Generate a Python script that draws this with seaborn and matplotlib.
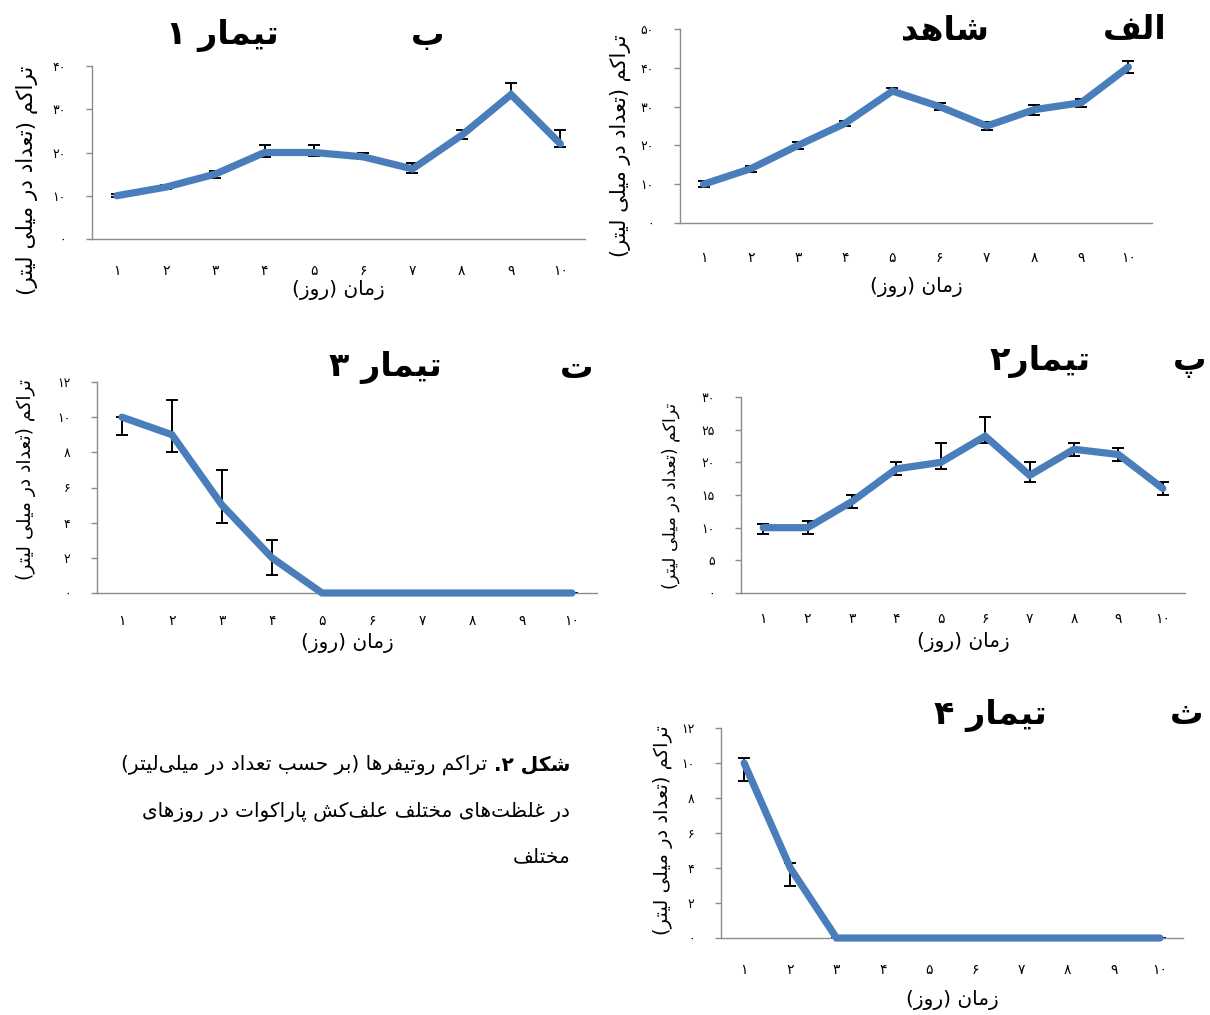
import matplotlib
matplotlib.use("Agg")
import matplotlib.pyplot as plt
import pandas as pd
import seaborn as sns

# ---------------- data ----------------
days = [1, 2, 3, 4, 5, 6, 7, 8, 9, 10]

control_mean = [10, 14, 20, 25.7, 34, 30, 25, 29.2, 31, 40.2]
control_lo = [0.8, 0.8, 0.8, 0.7, 0.8, 1.0, 1.0, 1.3, 1.0, 1.5]
control_hi = [0.8, 0.8, 0.8, 0.7, 0.8, 1.0, 1.0, 1.3, 1.0, 1.5]
control_yticks = [0, 10, 20, 30, 40, 50]

t1_mean = [10, 12, 15, 20, 20, 19, 16.2, 24, 33.4, 22]
t1_lo = [0.4, 0.5, 0.8, 1.0, 0.8, 0.5, 0.9, 0.9, 0.5, 0.8]
t1_hi = [0.4, 0.5, 0.8, 1.8, 1.8, 1.0, 1.4, 1.2, 2.7, 3.3]
t1_yticks = [0, 10, 20, 30, 40]

t2_mean = [10, 10, 14, 19, 20, 24, 18, 22, 21.2, 16]
t2_lo = [1, 1, 1, 1, 1, 1, 1, 1, 1, 1]
t2_hi = [0.5, 1, 1, 1, 3, 3, 2, 1, 1, 1]
t2_yticks = [0, 5, 10, 15, 20, 25, 30]

t3_mean = [10, 9, 5, 2, 0, 0, 0, 0, 0, 0]
t3_lo = [1, 1, 1, 1, 0, 0, 0, 0, 0, 0]
t3_hi = [0, 2, 2, 1, 0, 0, 0, 0, 0, 0]
t3_yticks = [0, 2, 4, 6, 8, 10, 12]

t4_mean = [10, 4, 0, 0, 0, 0, 0, 0, 0, 0]
t4_lo = [1, 1, 0, 0, 0, 0, 0, 0, 0, 0]
t4_hi = [0.3, 0.3, 0, 0, 0, 0, 0, 0, 0, 0]
t4_yticks = [0, 2, 4, 6, 8, 10, 12]

panel_letters = ["الف", "ب", "پ", "ت", "ث"]
panel_names = ["شاهد", "تیمار ۱", "تیمار۲", "تیمار ۳", "تیمار ۴"]
ylabel_text = "تراکم (تعداد در میلی لیتر)"
xlabel_text = "زمان (روز)"
caption_bold = "شکل ۲."
caption_line1 = "تراکم روتیفرها (بر حسب تعداد در میلی\u200cلیتر)"
caption_line2 = "در غلظت\u200cهای مختلف علف\u200cکش پاراکوات در روزهای"
caption_line3 = "مختلف"

# ---------------- Persian shaping helpers ----------------
FORMS = {
    "ا": ("\uFE8D", "\uFE8E", None, None),
    "ب": ("\uFE8F", "\uFE90", "\uFE91", "\uFE92"),
    "پ": ("\uFB56", "\uFB57", "\uFB58", "\uFB59"),
    "ت": ("\uFE95", "\uFE96", "\uFE97", "\uFE98"),
    "ث": ("\uFE99", "\uFE9A", "\uFE9B", "\uFE9C"),
    "ح": ("\uFEA1", "\uFEA2", "\uFEA3", "\uFEA4"),
    "خ": ("\uFEA5", "\uFEA6", "\uFEA7", "\uFEA8"),
    "د": ("\uFEA9", "\uFEAA", None, None),
    "ر": ("\uFEAD", "\uFEAE", None, None),
    "ز": ("\uFEAF", "\uFEB0", None, None),
    "س": ("\uFEB1", "\uFEB2", "\uFEB3", "\uFEB4"),
    "ش": ("\uFEB5", "\uFEB6", "\uFEB7", "\uFEB8"),
    "ط": ("\uFEC1", "\uFEC2", "\uFEC3", "\uFEC4"),
    "ظ": ("\uFEC5", "\uFEC6", "\uFEC7", "\uFEC8"),
    "ع": ("\uFEC9", "\uFECA", "\uFECB", "\uFECC"),
    "غ": ("\uFECD", "\uFECE", "\uFECF", "\uFED0"),
    "ف": ("\uFED1", "\uFED2", "\uFED3", "\uFED4"),
    "ک": ("\uFB8E", "\uFB8F", "\uFB90", "\uFB91"),
    "ل": ("\uFEDD", "\uFEDE", "\uFEDF", "\uFEE0"),
    "م": ("\uFEE1", "\uFEE2", "\uFEE3", "\uFEE4"),
    "ن": ("\uFEE5", "\uFEE6", "\uFEE7", "\uFEE8"),
    "ه": ("\uFEE9", "\uFEEA", "\uFEEB", "\uFEEC"),
    "و": ("\uFEED", "\uFEEE", None, None),
    "ی": ("\uFBFC", "\uFBFD", "\uFBFE", "\uFBFF"),
}
FA_DIGITS = "۰۱۲۳۴۵۶۷۸۹"
MIRROR = {"(": ")", ")": "("}


def _dual(c):
    return c in FORMS and FORMS[c][2] is not None


def rtl(text):
    ch = list(text)
    n = len(ch)
    glyphs = []
    i = 0
    while i < n:
        c = ch[i]
        if c not in FORMS:
            glyphs.append(c)
            i += 1
            continue
        prev = ch[i - 1] if i > 0 else None
        conn_prev = prev is not None and _dual(prev)
        if c == "ل" and i + 1 < n and ch[i + 1] == "ا":
            glyphs.append("\uFEFC" if conn_prev else "\uFEFB")
            i += 2
            continue
        nxt = ch[i + 1] if i + 1 < n else None
        conn_next = _dual(c) and nxt is not None and nxt in FORMS
        iso, fin, ini, med = FORMS[c]
        if conn_prev and conn_next:
            g = med
        elif conn_prev:
            g = fin
        elif conn_next:
            g = ini
        else:
            g = iso
        glyphs.append(g)
        i += 1
    vis = glyphs[::-1]
    out = []
    i = 0
    while i < len(vis):
        if vis[i] in FA_DIGITS:
            j = i
            while j < len(vis) and vis[j] in FA_DIGITS:
                j += 1
            out.extend(vis[i:j][::-1])
            i = j
        else:
            out.append(MIRROR.get(vis[i], vis[i]))
            i += 1
    return "".join(c for c in out if c != "\u200c")


def fa_num(v):
    return str(v).translate(str.maketrans("0123456789", FA_DIGITS))


# ---------------- figure ----------------
sns.set_theme(style="white")
plt.rcParams["font.family"] = ["DejaVu Sans"]
plt.rcParams["text.color"] = "black"
plt.rcParams["axes.labelcolor"] = "black"
plt.rcParams["xtick.color"] = "black"
plt.rcParams["ytick.color"] = "black"

W, H = 1210, 1015
fig = plt.figure(figsize=(W / 100, H / 100), dpi=100)
fig.patch.set_facecolor("white")

BLUE = "#4A7EBB"
GRAY = "#8C8C8C"

panels = [
    dict(rect=(680, 29, 1152, 223), mean=control_mean, lo=control_lo, hi=control_hi,
         yticks=control_yticks, letter=(1135, 30), name=(945, 30),
         ylab=(620, 146), xlab=287, ylsize=15, xpad=20),
    dict(rect=(92, 66, 585, 239), mean=t1_mean, lo=t1_lo, hi=t1_hi,
         yticks=t1_yticks, letter=(428, 35), name=(222, 35),
         ylab=(27, 180), xlab=290, ylsize=15.5, xpad=18),
    dict(rect=(741, 397, 1185, 593), mean=t2_mean, lo=t2_lo, hi=t2_hi,
         yticks=t2_yticks, letter=(1190, 362), name=(1040, 362),
         ylab=(671, 496), xlab=642, ylsize=12.5, xpad=14),
    dict(rect=(97, 382, 597, 593), mean=t3_mean, lo=t3_lo, hi=t3_hi,
         yticks=t3_yticks, letter=(577, 368), name=(385, 368),
         ylab=(26, 480), xlab=643, ylsize=13.5, xpad=15),
    dict(rect=(721, 728, 1183, 938), mean=t4_mean, lo=t4_lo, hi=t4_hi,
         yticks=t4_yticks, letter=(1187, 715), name=(990, 715),
         ylab=(663, 830), xlab=1000, ylsize=14, xpad=18),
]

for k, p in enumerate(panels):
    l, t, r, b = p["rect"]
    ax = fig.add_axes([l / W, 1 - b / H, (r - l) / W, (b - t) / H])
    df = pd.DataFrame({"day": days, "value": p["mean"]})
    ax.errorbar(days, p["mean"], yerr=[p["lo"], p["hi"]], fmt="none",
                ecolor="black", elinewidth=1.4, capsize=4, capthick=1.4,
                zorder=2, clip_on=False)
    sns.lineplot(data=df, x="day", y="value", ax=ax, color=BLUE,
                 linewidth=5.2, zorder=3, clip_on=False,
                 solid_capstyle="round", solid_joinstyle="miter")
    ax.set_xlim(0.5, 10.5)
    ax.set_ylim(p["yticks"][0], p["yticks"][-1])
    ax.set_xticks(days)
    ax.set_xticklabels([fa_num(d) for d in days])
    ax.set_yticks(p["yticks"])
    ax.set_yticklabels([fa_num(v) for v in p["yticks"]])
    for s in ("top", "right"):
        ax.spines[s].set_visible(False)
    for s in ("left", "bottom"):
        ax.spines[s].set_color(GRAY)
        ax.spines[s].set_linewidth(1.0)
    ax.tick_params(axis="y", direction="out", length=4, width=1, color=GRAY,
                   pad=15, labelsize=9, left=True, labelcolor="black")
    ax.tick_params(axis="x", length=0, pad=p["xpad"], labelsize=10, labelcolor="black")
    ax.grid(False)

    ax.set_ylabel(rtl(ylabel_text), fontsize=p["ylsize"], va="center", ha="center",
                  color="black")
    ax.yaxis.set_label_coords((p["ylab"][0] - l) / (r - l), (b - p["ylab"][1]) / (b - t))
    ax.set_xlabel(rtl(xlabel_text), fontsize=14.5, va="center", ha="center", color="black")
    ax.xaxis.set_label_coords(0.5, (b - p["xlab"]) / (b - t))

    fig.text(p["letter"][0] / W, 1 - p["letter"][1] / H, rtl(panel_letters[k]),
             ha="center", va="center", fontsize=24, fontweight="bold", color="black")
    fig.text(p["name"][0] / W, 1 - p["name"][1] / H, rtl(panel_names[k]),
             ha="center", va="center", fontsize=24, fontweight="bold", color="black")

# caption
cap_right = 570
cap_size = 14.5
tb = fig.text(cap_right / W, 1 - 765 / H, rtl(caption_bold), ha="right", va="center",
              fontsize=cap_size, fontweight="bold", color="black")
renderer = fig.canvas.get_renderer()
wb = tb.get_window_extent(renderer).width
fig.text((cap_right - wb - 6) / W, 1 - 765 / H, rtl(caption_line1), ha="right",
         va="center", fontsize=cap_size, color="black")
fig.text(cap_right / W, 1 - 812 / H, rtl(caption_line2), ha="right", va="center",
         fontsize=cap_size, color="black")
fig.text(cap_right / W, 1 - 857 / H, rtl(caption_line3), ha="right", va="center",
         fontsize=cap_size, color="black")

fig.savefig("out.png", dpi=100, facecolor="white")
